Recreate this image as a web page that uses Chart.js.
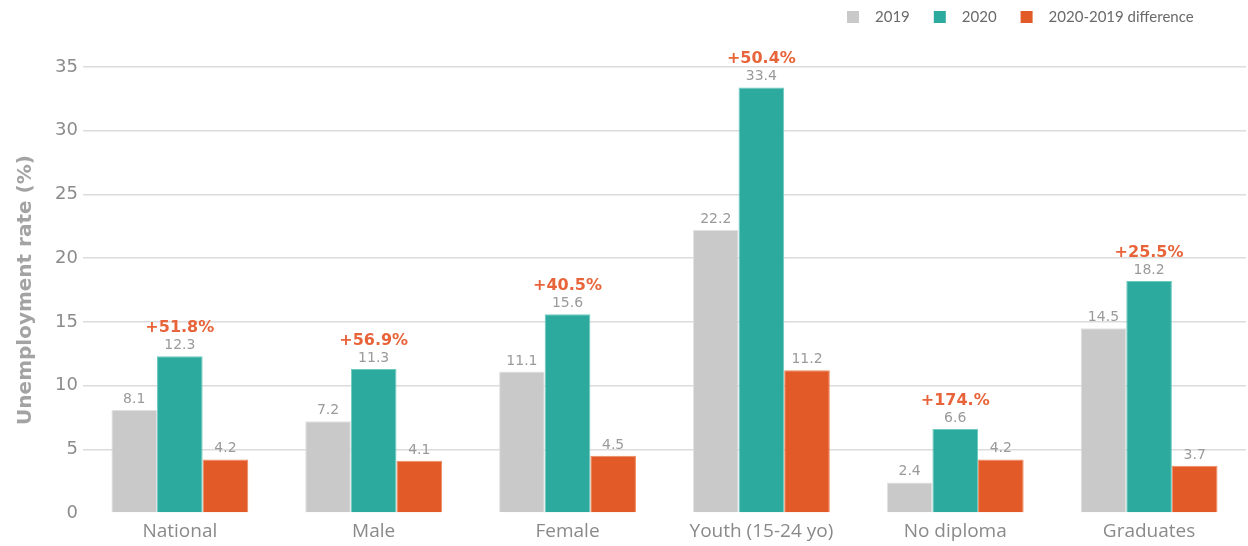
<!DOCTYPE html>
<html>
<head>
<meta charset="utf-8">
<script src="https://cdn.jsdelivr.net/npm/chart.js@4/dist/chart.umd.min.js"></script>
<style>
  html, body { margin: 0; padding: 0; background: #ffffff; }
  #wrap { width: 1248px; height: 546px; position: relative; }
</style>
</head>
<body>
<div id="wrap"><canvas id="c" width="1248" height="546"></canvas></div>
<script>
const categories = ["National", "Male", "Female", "Youth (15-24 yo)", "No diploma", "Graduates"];
const values2019 = [8.1, 7.2, 11.1, 22.2, 2.4, 14.5];
const values2020 = [12.3, 11.3, 15.6, 33.4, 6.6, 18.2];
const valuesDiff = [4.2, 4.1, 4.5, 11.2, 4.2, 3.7];
const changeLabels = ["+51.8%", "+56.9%", "+40.5%", "+50.4%", "+174.%", "+25.5%"];
const seriesNames = ["2019", "2020", "2020-2019 difference"];
const yTicks = [0, 5, 10, 15, 20, 25, 30, 35];

const COL_GRAY = "#C9C9C9", COL_TEAL = "#2DAA9E", COL_ORANGE = "#E15A27";

const valueLabels = {
  id: "valueLabels",
  afterDatasetsDraw(chart) {
    const ctx = chart.ctx;
    ctx.save();
    ctx.textAlign = "center";
    ctx.textBaseline = "alphabetic";
    chart.data.datasets.forEach((ds, di) => {
      const meta = chart.getDatasetMeta(di);
      meta.data.forEach((bar, i) => {
        ctx.font = "14px 'DejaVu Sans'";
        ctx.fillStyle = "#9a9a9a";
        ctx.fillText(String(ds.data[i]), bar.x, bar.y - 7);
        if (di === 1) {
          ctx.font = "bold 16px 'DejaVu Sans'";
          ctx.fillStyle = "#E8643A";
          ctx.fillText(changeLabels[i], bar.x, bar.y - 24);
        }
      });
    });
    ctx.restore();
  }
};

const topLegend = {
  id: "topLegend",
  afterDraw(chart) {
    const ctx = chart.ctx;
    ctx.save();
    ctx.font = "15px Lato";
    ctx.textBaseline = "middle";
    ctx.textAlign = "left";
    let x = 847;
    const y = 17;
    chart.data.datasets.forEach((ds) => {
      ctx.fillStyle = ds.backgroundColor;
      ctx.fillRect(x, y - 6, 12, 12);
      x += 12 + 16;
      ctx.fillStyle = "#6a6a6a";
      ctx.fillText(ds.label, x, y);
      x += ctx.measureText(ds.label).width + 24;
    });
    ctx.restore();
  }
};

new Chart(document.getElementById("c"), {
  type: "bar",
  data: {
    labels: categories,
    datasets: [
      { label: seriesNames[0], data: values2019, backgroundColor: COL_GRAY, borderColor: "#e2e2e2", borderWidth: 1 },
      { label: seriesNames[1], data: values2020, backgroundColor: COL_TEAL, borderColor: "#6ccabf", borderWidth: 1 },
      { label: seriesNames[2], data: valuesDiff, backgroundColor: COL_ORANGE, borderColor: "#f08a60", borderWidth: 1 }
    ]
  },
  options: {
    responsive: false,
    animation: false,
    devicePixelRatio: 1,
    layout: { padding: { top: 67, left: 9, right: 2, bottom: 5 } },
    datasets: { bar: { categoryPercentage: 0.706, barPercentage: 1.0 } },
    plugins: {
      legend: { display: false },
      tooltip: { enabled: false }
    },
    scales: {
      x: {
        afterFit(scale) { scale.height = 28; },
        grid: { display: false, drawTicks: false },
        border: { display: false },
        ticks: { color: "#8a8a8a", font: { family: "'Open Sans'", size: 19, lineHeight: 1 }, padding: 9 }
      },
      y: {
        min: 0,
        max: 35,
        afterBuildTicks(scale) { scale.ticks = yTicks.map(v => ({ value: v })); },
        grid: {
          drawTicks: false,
          color: (c) => (c.tick && c.tick.value === 0 ? "rgba(0,0,0,0)" : "#dcdcdc"),
          lineWidth: 1.5
        },
        border: { display: false },
        ticks: { color: "#8c8c8c", font: { family: "'DejaVu Sans'", size: 18 }, padding: 5 },
        title: {
          display: true,
          text: "Unemployment rate (%)",
          color: "#a3a3a3",
          font: { family: "'DejaVu Sans'", size: 20, weight: "bold" },
          padding: { top: 5, bottom: 12 }
        }
      }
    }
  },
  plugins: [valueLabels, topLegend]
});
</script>
</body>
</html>
